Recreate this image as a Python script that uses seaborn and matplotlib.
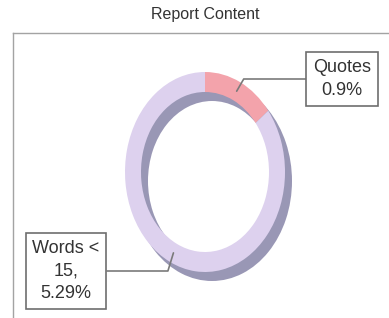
import numpy as np
import matplotlib
matplotlib.use("Agg")
import matplotlib.pyplot as plt
import seaborn as sns

# Data
categories = ["Quotes", "Other"]
ring_share = [14.5, 85.5]          # visible share of the ring
label_text = ["Quotes\n0.9%", "Words <\n15,\n5.29%"]
ring_colors = ["#f3a3ab", "#ddd1ee"]
shadow_color = "#9997b5"

sns.set_theme(style="white")
plt.rcParams["font.family"] = ["Liberation Sans", "DejaVu Sans"]

W, H = 389, 318
fig = plt.figure(figsize=(W / 100, H / 100), dpi=100)
fig.patch.set_facecolor("white")

# chart frame (left and top edges visible, rest cut off)
frame = fig.add_axes([13 / W, -0.05, 1.0, (H - 33) / H + 0.05])
frame.set_xticks([])
frame.set_yticks([])
for side in ["left", "top"]:
    frame.spines[side].set_color("#a3a3a3")
    frame.spines[side].set_linewidth(1.0)
for side in ["right", "bottom"]:
    frame.spines[side].set_visible(False)
frame.patch.set_alpha(0)

fig.text(205 / W, 1 - 15 / H, "Report Content", ha="center", va="center",
         fontsize=11.5, color="#333333")

# donut axes: radius 1 = 80 px wide, 100 px tall, centre at (205, 172)
cx, cy, rx, ry = 205, 172, 80, 100
lim = 1.3
ax = fig.add_axes([(cx - lim * rx) / W, (H - cy - lim * ry) / H,
                   2 * lim * rx / W, 2 * lim * ry / H])
ring_w = 0.2

# shadow ring, offset to lower right
ax.pie([sum(ring_share)], colors=[shadow_color], radius=1.0,
       center=(7 / rx, -9 / ry), startangle=90, counterclock=False,
       wedgeprops=dict(width=ring_w, linewidth=0))
ax.pie(ring_share, colors=ring_colors, radius=1.0, startangle=90,
       counterclock=False, wedgeprops=dict(width=ring_w, linewidth=0))
ax.set_aspect("auto")
ax.set_xlim(-lim, lim)
ax.set_ylim(-lim, lim)
ax.axis("off")

# leader anchors on the ring (clockwise degrees from top)
quotes_mid = ring_share[0] / sum(ring_share) * 360 / 2
anchors = [quotes_mid, 206]
box_pos = [(342, H - 79), (66, H - 271)]
angleB = [60, 73]
angleA = [180, 0]
for txt, ang, pos, aA, aB in zip(label_text, anchors, box_pos, angleA, angleB):
    r = 0.9
    a = np.deg2rad(ang)
    ax.annotate(txt, xy=(r * np.sin(a), r * np.cos(a)), xycoords="data",
                xytext=pos, textcoords="figure pixels", ha="center",
                va="center", fontsize=13, color="#333333", linespacing=1.45,
                bbox=dict(boxstyle="square,pad=0.38", fc="white",
                          ec="#6e6e6e", lw=1.2),
                arrowprops=dict(arrowstyle="-", color="#7a7a7a", lw=1.2,
                                shrinkA=0, shrinkB=0,
                                connectionstyle=f"angle,angleA={aA},angleB={aB},rad=0"))

fig.savefig("out.png", dpi=100)
